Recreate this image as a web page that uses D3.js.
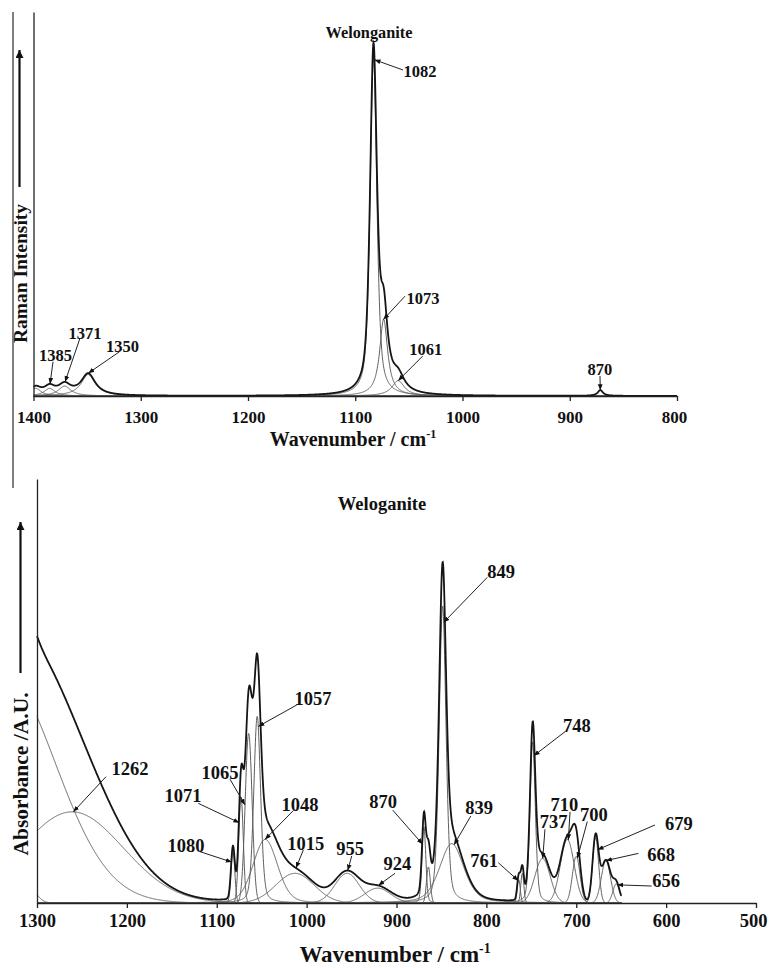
<!DOCTYPE html>
<html lang="en">
<head>
<meta charset="UTF-8">
<title>Welonganite / Weloganite - Raman and IR band fits</title>
<script src="https://cdn.jsdelivr.net/npm/d3@7"></script>
<style>
    body { margin: 0; background: #ffffff; }
    svg text {
        font-family: "Liberation Serif", "Times New Roman", serif;
        font-weight: bold;
        fill: #111;
    }
    .comp { fill: none; stroke: #5e5e5e; stroke-width: 1; }
    .total { fill: none; stroke: #151515; stroke-width: 1.8; }
    .axis path, .axis line { stroke: #222; stroke-width: 1.3; }
    .lead { stroke: #222; stroke-width: 1; }
</style>
</head>
<body>
<svg id="chart" width="769" height="968"></svg>
<script>
// ---- Raman bands (top panel): position cm-1, height, FWHM, Lorentzian share
var ramanLabels  = ["", "1385", "1371", "1350", "1082", "1073", "1061", "870"];
var ramanCenters = [1398, 1385, 1371, 1349, 1083, 1073.5, 1060, 871.5];
var ramanHeights = [2, 2, 2.6, 5.6, 88, 20, 4, 1.5];
var ramanFwhm    = [12, 12, 14, 16, 7.5, 9, 14, 6];
var ramanLor     = [1, 1, 1, 1, 0.6, 1, 1, 1];
var ramanTicks   = [1400, 1300, 1200, 1100, 1000, 900, 800];

// ---- IR bands (bottom panel)
var irLabels  = ["", "", "1262", "1080", "1071", "1065", "1057", "1048", "1015", "955", "924", "870", "",
                 "849", "839", "761", "", "748", "737", "710", "700", "679", "668", "656"];
var irCenters = [1340, 1310, 1261, 1082, 1073, 1064.5, 1055, 1046, 1013, 955, 921, 869.5, 864.5,
                 848.7, 838.5, 764, 760, 748.5, 737.5, 710, 700, 678.5, 667, 655.5];
var irHeights = [54.9, 4, 21.5, 12, 25, 40, 44, 15, 7, 7, 3.5, 18, 8.5,
                 70, 14, 5.5, 7, 38, 10.5, 15, 11, 15.5, 10, 4.5];
var irFwhm    = [141, 20, 134, 5, 6, 9, 9, 32, 50, 32, 34, 5, 5,
                 9, 32, 4, 4, 7, 20, 18, 10, 8, 12, 9];
var irLor     = [0, 0, 0, 0, 0, 0, 0.3, 0.2, 0, 0, 0, 0.2, 0,
                 0.35, 0.4, 0, 0, 0.3, 0, 0, 0, 0, 0, 0];
var irTicks   = [1300, 1200, 1100, 1000, 900, 800, 700, 600, 500];

// callouts: arrow tip wavenumber, whether it sits on the sum or the band,
// text anchor and leader start in data units
var ramanNotes = [
    {label: "1385", tip: 1384.6, on: "total", text: [1379.5, 9.1], from: [1381.8, 8.9]},
    {label: "1371", tip: 1370.6, on: "total", text: [1352, 14.8], from: [1356.6, 15.1]},
    {label: "1350", tip: 1348.9, on: "total", text: [1317, 11.5], from: [1320, 11.5]},
    {label: "1082", tip: 1082, on: "total", text: [1039.6, 83], from: [1055.5, 84.9]},
    {label: "1073", tip: 1073.8, on: "band", text: [1036.8, 24], from: [1053.6, 26]},
    {label: "1061", tip: 1060, on: "band", text: [1034.3, 10.7], from: [1037.1, 10.4]},
    {label: "870", tip: 871.5, on: "band", text: [872, 5.5], from: [871.8, 5.2]}
];
var irNotes = [
    {label: "1262", tip: 1259.6, on: "band", text: [1196.5, 30.2], from: [1223.2, 29.8]},
    {label: "1080", tip: 1083.4, on: "band", text: [1134.2, 12.0], from: [1118.6, 12.1]},
    {label: "1071", tip: 1074.9, on: "band", text: [1137.6, 23.8], from: [1120.5, 23.5]},
    {label: "1065", tip: 1068.5, on: "band", text: [1096.4, 29.2], from: [1085.3, 29.2]},
    {label: "1057", tip: 1053.8, on: "band", text: [992.9, 46.7], from: [1011, 46.7]},
    {label: "1048", tip: 1046.3, on: "band", text: [1007.4, 21.7], from: [1014.8, 21.8]},
    {label: "1015", tip: 1011.8, on: "total", text: [1001, 12.6], from: [1003.7, 12.5]},
    {label: "955", tip: 954.3, on: "total", text: [951.7, 11.3], from: [949.8, 11.1]},
    {label: "924", tip: 920.2, on: "total", text: [898.9, 7.8], from: [901.7, 7.0]},
    {label: "870", tip: 871, on: "band", text: [915, 22.3], from: [904.2, 21.9]},
    {label: "849", tip: 847.5, on: "band", text: [783.7, 76.7], from: [799, 76.8]},
    {label: "839", tip: 836, on: "band", text: [808.2, 21], from: [817.4, 20.5]},
    {label: "761", tip: 764.5, on: "band", text: [802.6, 8.6], from: [786.7, 9.5]},
    {label: "748", tip: 747.3, on: "band", text: [699.2, 40.4], from: [712.5, 40.4]},
    {label: "737", tip: 737.3, on: "band", text: [725.1, 17.6], from: [734.8, 17.4]},
    {label: "710", tip: 708.8, on: "band", text: [713.1, 21.8], from: [706.9, 21.5]},
    {label: "700", tip: 698.8, on: "band", text: [680.3, 19.3], from: [687.7, 19.2]},
    {label: "679", tip: 676.3, on: "band", text: [585.7, 17.2], from: [612.4, 18.4]},
    {label: "668", tip: 666.9, on: "band", text: [605.7, 10], from: [630.9, 11.7]},
    {label: "656", tip: 654.3, on: "band", text: [600.1, 3.7], from: [616.1, 4.0]}
];

function makeBands(labels, centers, heights, fwhm, lor) {
    return labels.map(function (label, i) {
        return {label: label, c: centers[i], h: heights[i], w: fwhm[i], eta: lor[i]};
    });
}

// pseudo-Voigt band shape
function profile(v, b) {
    var u = (v - b.c) / (b.w / 2);
    return b.h * (b.eta / (1 + u * u) + (1 - b.eta) * Math.exp(-Math.LN2 * u * u));
}

var svg = d3.select("#chart");
var defs = svg.append("defs");
defs.append("marker")
    .attr("id", "tip")
    .attr("viewBox", "0 0 10 10")
    .attr("refX", 10).attr("refY", 5)
    .attr("markerWidth", 6).attr("markerHeight", 6)
    .attr("markerUnits", "userSpaceOnUse")
    .attr("orient", "auto")
    .append("path").attr("d", "M0,1 L10,5 L0,9 z").attr("fill", "#111");
defs.append("marker")
    .attr("id", "bigtip")
    .attr("viewBox", "0 0 10 10")
    .attr("refX", 10).attr("refY", 5)
    .attr("markerWidth", 9).attr("markerHeight", 8)
    .attr("markerUnits", "userSpaceOnUse")
    .attr("orient", "auto")
    .append("path").attr("d", "M0,0 L10,5 L0,10 z").attr("fill", "#111");

var panels = [
    {
        bands: makeBands(ramanLabels, ramanCenters, ramanHeights, ramanFwhm, ramanLor),
        notes: ramanNotes, ticks: ramanTicks, span: [800, 1400],
        x: d3.scaleLinear().domain([1400, 800]).range([33.5, 677]),
        y: d3.scaleLinear().domain([0, 100]).range([396, 12]),
        tickFont: 17, tickBase: 27, noteFont: 16.5
    },
    {
        bands: makeBands(irLabels, irCenters, irHeights, irFwhm, irLor),
        notes: irNotes, ticks: irTicks, span: [650, 1300],
        x: d3.scaleLinear().domain([1300, 500]).range([37, 756]),
        y: d3.scaleLinear().domain([0, 100]).range([903, 479]),
        tickFont: 18.5, tickBase: 23.5, noteFont: 18.5
    }
];

function drawPanel(p) {
    var g = svg.append("g");
    var grid = d3.range(p.span[0], p.span[1] + 0.001, 0.25);
    var line = d3.line()
        .x(function (d) { return p.x(d[0]); })
        .y(function (d) { return p.y(d[1]); });
    var total = function (v) { return d3.sum(p.bands, function (b) { return profile(v, b); }); };

    p.bands.forEach(function (b) {
        g.append("path").attr("class", "comp")
            .attr("d", line(grid.map(function (v) { return [v, profile(v, b)]; })));
    });
    g.append("path").attr("class", "total")
        .attr("d", line(grid.map(function (v) { return [v, total(v)]; })));

    var xa = g.append("g").attr("class", "axis")
        .attr("transform", "translate(0," + p.y(0) + ")")
        .call(d3.axisBottom(p.x).tickValues(p.ticks).tickSize(5).tickSizeOuter(0).tickFormat(d3.format("d")));
    xa.selectAll("text")
        .attr("y", p.tickBase).attr("dy", null)
        .style("font-size", p.tickFont + "px");
    // keep the right-most label inside the page
    xa.selectAll(".tick:last-of-type text").attr("dx", -3);
    g.append("g").attr("class", "axis")
        .attr("transform", "translate(" + p.x.range()[0] + ",0)")
        .call(d3.axisLeft(p.y).tickValues([]).tickSizeOuter(0));

    p.notes.forEach(function (n) {
        var band = p.bands.find(function (b) { return b.label === n.label; });
        var tipVal = n.on === "total" ? total(n.tip) : profile(n.tip, band);
        g.append("line").attr("class", "lead")
            .attr("x1", p.x(n.from[0])).attr("y1", p.y(n.from[1]))
            .attr("x2", p.x(n.tip)).attr("y2", p.y(tipVal))
            .attr("marker-end", "url(#tip)");
        g.append("text")
            .attr("x", p.x(n.text[0])).attr("y", p.y(n.text[1]))
            .attr("text-anchor", "middle")
            .style("font-size", p.noteFont + "px")
            .text(n.label);
    });
}

panels.forEach(drawPanel);

// titles
svg.append("text").attr("x", 369).attr("y", 37.5).attr("text-anchor", "middle")
    .style("font-size", "16.3px").text("Welonganite");
svg.append("text").attr("x", 382).attr("y", 509.5).attr("text-anchor", "middle")
    .style("font-size", "18.5px").text("Weloganite");

// x axis titles
function xTitle(x, y, size) {
    var t = svg.append("text").attr("x", x).attr("y", y).attr("text-anchor", "middle")
        .style("font-size", size + "px");
    t.append("tspan").text("Wavenumber / cm");
    t.append("tspan").attr("dy", -size * 0.4).style("font-size", (size * 0.6) + "px").text("-1");
}
xTitle(353, 446, 20);
xTitle(395, 962, 23);

// y axis titles and arrows
svg.append("text").attr("transform", "translate(27,273.5) rotate(-90)")
    .attr("text-anchor", "middle").style("font-size", "19.5px").text("Raman Intensity");
svg.append("text").attr("transform", "translate(28,774) rotate(-90)")
    .attr("text-anchor", "middle").style("font-size", "21.5px").text("Absorbance /A.U.");
svg.append("line").attr("x1", 19.5).attr("y1", 187).attr("x2", 19.5).attr("y2", 50)
    .attr("stroke", "#111").attr("stroke-width", 2.2).attr("marker-end", "url(#bigtip)");
svg.append("line").attr("x1", 20.5).attr("y1", 673).attr("x2", 20.5).attr("y2", 522)
    .attr("stroke", "#111").attr("stroke-width", 2.2).attr("marker-end", "url(#bigtip)");

// figure border line on the left of the Raman panel
svg.append("line").attr("x1", 13).attr("y1", 12).attr("x2", 13).attr("y2", 488)
    .attr("stroke", "#555").attr("stroke-width", 1.5);
</script>
</body>
</html>
